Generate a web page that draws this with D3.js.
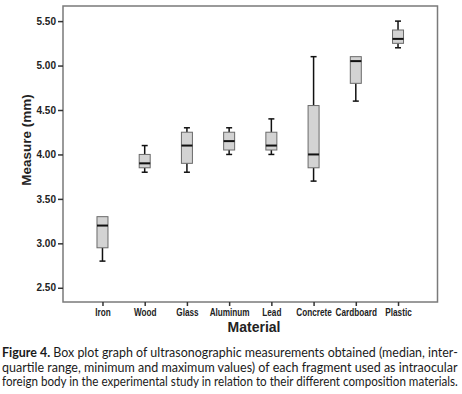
<!DOCTYPE html>
<html>
<head>
<meta charset="utf-8">
<script src="https://cdn.jsdelivr.net/npm/d3@7"></script>
<style>
  html, body { margin: 0; padding: 0; background: #fff; }
  svg { display: block; }
</style>
</head>
<body>
<svg id="chart" width="462" height="394"></svg>
<script>
// ---- Data ----
const categories = ["Iron", "Wood", "Glass", "Aluminum", "Lead", "Concrete", "Cardboard", "Plastic"];
const minVals    = [2.80, 3.80, 3.80, 4.00, 4.00, 3.70, 4.60, 5.20];
const q1Vals     = [2.95, 3.85, 3.90, 4.05, 4.05, 3.85, 4.80, 5.25];
const medianVals = [3.20, 3.90, 4.10, 4.15, 4.10, 4.00, 5.05, 5.30];
const q3Vals     = [3.30, 4.00, 4.25, 4.25, 4.25, 4.55, 5.10, 5.40];
const maxVals    = [3.30, 4.10, 4.30, 4.30, 4.40, 5.10, 5.10, 5.50];
const yTicks     = [2.50, 3.00, 3.50, 4.00, 4.50, 5.00, 5.50];
const yDomain    = [2.34, 5.67];
const xTitle = "Material";
const yTitle = "Measure (mm)";
const captionBold = "Figure 4.";
const captionLines = [
  " Box plot graph of ultrasonographic measurements obtained (median, inter-",
  "quartile range, minimum and maximum values) of each fragment used as intraocular",
  "foreign body in the experimental study in relation to their different composition materials."
];

const rows = categories.map((c, i) => ({
  cat: c, min: minVals[i], q1: q1Vals[i], med: medianVals[i], q3: q3Vals[i], max: maxVals[i]
}));

// ---- Layout ----
const svg = d3.select("#chart");
const plot = { left: 63, top: 6, right: 437.5, bottom: 302 };

const x = d3.scalePoint().domain(categories).range([plot.left, plot.right]).padding(0.935);
const y = d3.scaleLinear().domain(yDomain).range([plot.bottom, plot.top]);

const boxW = 11, capW = 6;
const axisFont = "'Liberation Sans', Arial, Helvetica, sans-serif";

// frame
svg.append("rect")
  .attr("x", plot.left).attr("y", plot.top)
  .attr("width", plot.right - plot.left).attr("height", plot.bottom - plot.top)
  .attr("fill", "none").attr("stroke", "#7a7a7a").attr("stroke-width", 1.5);

// y axis
const yAxis = svg.append("g")
  .attr("transform", `translate(${plot.left},0)`)
  .call(d3.axisLeft(y).tickValues(yTicks).tickFormat(d3.format(".2f")).tickSize(5).tickPadding(2));
yAxis.select(".domain").remove();
yAxis.selectAll(".tick line").attr("stroke", "#333").attr("stroke-width", 1.5);
yAxis.selectAll(".tick text")
  .attr("fill", "#222").style("font-family", axisFont).style("font-size", "10px").style("font-weight", "bold");

// x axis
const xAxis = svg.append("g")
  .attr("transform", `translate(0,${plot.bottom})`)
  .call(d3.axisBottom(x).tickSize(4).tickPadding(3));
xAxis.select(".domain").remove();
xAxis.selectAll(".tick line").attr("stroke", "#333").attr("stroke-width", 1.5);
xAxis.selectAll(".tick text")
  .attr("fill", "#222").style("font-family", axisFont).style("font-size", "10.5px").style("font-weight", "bold")
  .attr("transform", "scale(0.78,1)");

// boxes
const g = svg.append("g");
const box = g.selectAll("g.box").data(rows).join("g").attr("class", "box");

// lower whisker
box.filter(d => d.min < d.q1).append("line")
  .attr("x1", d => x(d.cat)).attr("x2", d => x(d.cat))
  .attr("y1", d => y(d.min)).attr("y2", d => y(d.q1))
  .attr("stroke", "#111").attr("stroke-width", 1.5);
box.filter(d => d.min < d.q1).append("line")
  .attr("x1", d => x(d.cat) - capW / 2).attr("x2", d => x(d.cat) + capW / 2)
  .attr("y1", d => y(d.min)).attr("y2", d => y(d.min))
  .attr("stroke", "#111").attr("stroke-width", 1.5);
// upper whisker
box.filter(d => d.max > d.q3).append("line")
  .attr("x1", d => x(d.cat)).attr("x2", d => x(d.cat))
  .attr("y1", d => y(d.max)).attr("y2", d => y(d.q3))
  .attr("stroke", "#111").attr("stroke-width", 1.5);
box.filter(d => d.max > d.q3).append("line")
  .attr("x1", d => x(d.cat) - capW / 2).attr("x2", d => x(d.cat) + capW / 2)
  .attr("y1", d => y(d.max)).attr("y2", d => y(d.max))
  .attr("stroke", "#111").attr("stroke-width", 1.5);

// box rect
box.append("rect")
  .attr("x", d => x(d.cat) - boxW / 2).attr("width", boxW)
  .attr("y", d => y(d.q3)).attr("height", d => y(d.q1) - y(d.q3))
  .attr("fill", "#d3d3d3").attr("stroke", "#6a6a6a").attr("stroke-width", 1);

// median
box.append("line")
  .attr("x1", d => x(d.cat) - boxW / 2).attr("x2", d => x(d.cat) + boxW / 2)
  .attr("y1", d => y(d.med)).attr("y2", d => y(d.med))
  .attr("stroke", "#111").attr("stroke-width", 2);

// axis titles
svg.append("text")
  .attr("x", 254).attr("y", 332)
  .attr("text-anchor", "middle")
  .style("font-family", axisFont).style("font-size", "14px").style("font-weight", "bold")
  .attr("fill", "#222").text(xTitle);

svg.append("text")
  .attr("transform", "translate(31,140) rotate(-90)")
  .attr("text-anchor", "middle")
  .style("font-family", axisFont).style("font-size", "13.5px").style("font-weight", "bold")
  .attr("fill", "#222").text(yTitle);

// caption (justified by horizontal scaling)
const capFont = "Lato, 'Open Sans', sans-serif";
const capLeft = 2, capWidth = 456;
const baselines = [357, 371.5, 386];
captionLines.forEach((line, i) => {
  const t = svg.append("text")
    .attr("x", 0).attr("y", 0)
    .style("font-family", capFont).style("font-size", "12.5px")
    .attr("fill", "#1a1a1a");
  if (i === 0) {
    t.append("tspan").style("font-weight", "bold").text(captionBold);
  }
  t.append("tspan").text(line);
  const w = t.node().getComputedTextLength();
  t.attr("transform", `translate(${capLeft},${baselines[i]}) scale(${capWidth / w},1)`);
});
</script>
</body>
</html>
